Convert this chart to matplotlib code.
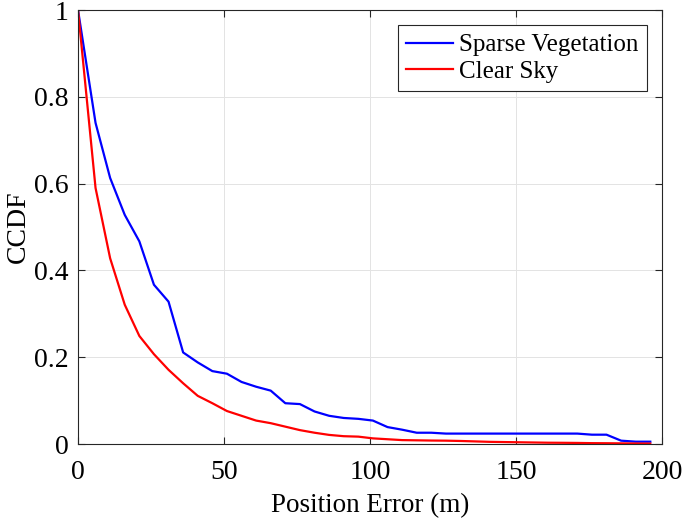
import matplotlib
matplotlib.use('Agg')
from matplotlib import pyplot as plt

# position error (m) and CCDF values
pos_err = [0, 6, 11, 16, 21, 26, 31, 36, 41, 46,
           51, 56, 61, 66, 71, 76, 81, 86, 91, 96,
           101, 106, 111, 116, 121, 126, 131, 136, 141, 146,
           151, 156, 161, 166, 171, 176, 181, 186, 191, 196]
sparse_veg = [1.0, 0.74, 0.613, 0.528, 0.467, 0.367, 0.328, 0.211, 0.188, 0.168,
              0.162, 0.143, 0.132, 0.123, 0.094, 0.092, 0.075, 0.065, 0.060, 0.058,
              0.054, 0.039, 0.033, 0.026, 0.026, 0.024, 0.024, 0.024, 0.024, 0.024,
              0.024, 0.024, 0.024, 0.024, 0.024, 0.0215, 0.0215, 0.0077, 0.0054, 0.0054]
clear_sky = [1.0, 0.59, 0.428, 0.321, 0.249, 0.207, 0.171, 0.14, 0.111, 0.094,
             0.076, 0.065, 0.054, 0.048, 0.040, 0.032, 0.026, 0.021, 0.018, 0.017,
             0.013, 0.011, 0.009, 0.0085, 0.008, 0.0077, 0.007, 0.006, 0.005, 0.0045,
             0.004, 0.0035, 0.003, 0.0028, 0.0025, 0.002, 0.0018, 0.0015, 0.0012, 0.001]
labels = ['Sparse Vegetation', 'Clear Sky']
xticks = [0, 50, 100, 150, 200]
yticks = [0, 0.2, 0.4, 0.6, 0.8, 1]
ytick_labels = ['0', '0.2', '0.4', '0.6', '0.8', '1']

plt.rcParams['font.family'] = ['Liberation Serif', 'DejaVu Serif']

fig = plt.figure(figsize=(6.85, 5.22), dpi=100)
ax = fig.add_axes([0.1139, 0.1494, 0.8525, 0.8314])

ax.plot(pos_err, sparse_veg, color=(0, 0, 1), lw=1.6, label=labels[0])
ax.plot(pos_err, clear_sky, color=(1, 0, 0), lw=1.6, label=labels[1])

ax.set_xlim(0, 200)
ax.set_ylim(0, 1)
ax.set_xticks(xticks)
ax.set_yticks(yticks)
ax.set_yticklabels(ytick_labels)
ax.tick_params(direction='in', top=True, right=True, labelsize=20,
               length=5, width=0.8, colors='#262626', labelcolor='black')
ax.tick_params(axis='x', pad=11.5)
ax.tick_params(axis='y', pad=7)
ax.grid(True, color='#e3e3e3', lw=0.7)
ax.set_axisbelow(True)
for sp in ax.spines.values():
    sp.set_color('#262626')
    sp.set_linewidth(0.8)

ax.set_xlabel('Position Error (m)', fontsize=19.5, labelpad=6)
ax.set_ylabel('CCDF', fontsize=20, labelpad=2)

leg = ax.legend(loc='upper right', fontsize=18, fancybox=False, framealpha=1,
                edgecolor='#262626', handlelength=1.85, handletextpad=0.25,
                borderpad=0.35, labelspacing=0.15, borderaxespad=0.6)
leg.get_frame().set_linewidth(0.8)

fig.savefig('out.png', dpi=100)
